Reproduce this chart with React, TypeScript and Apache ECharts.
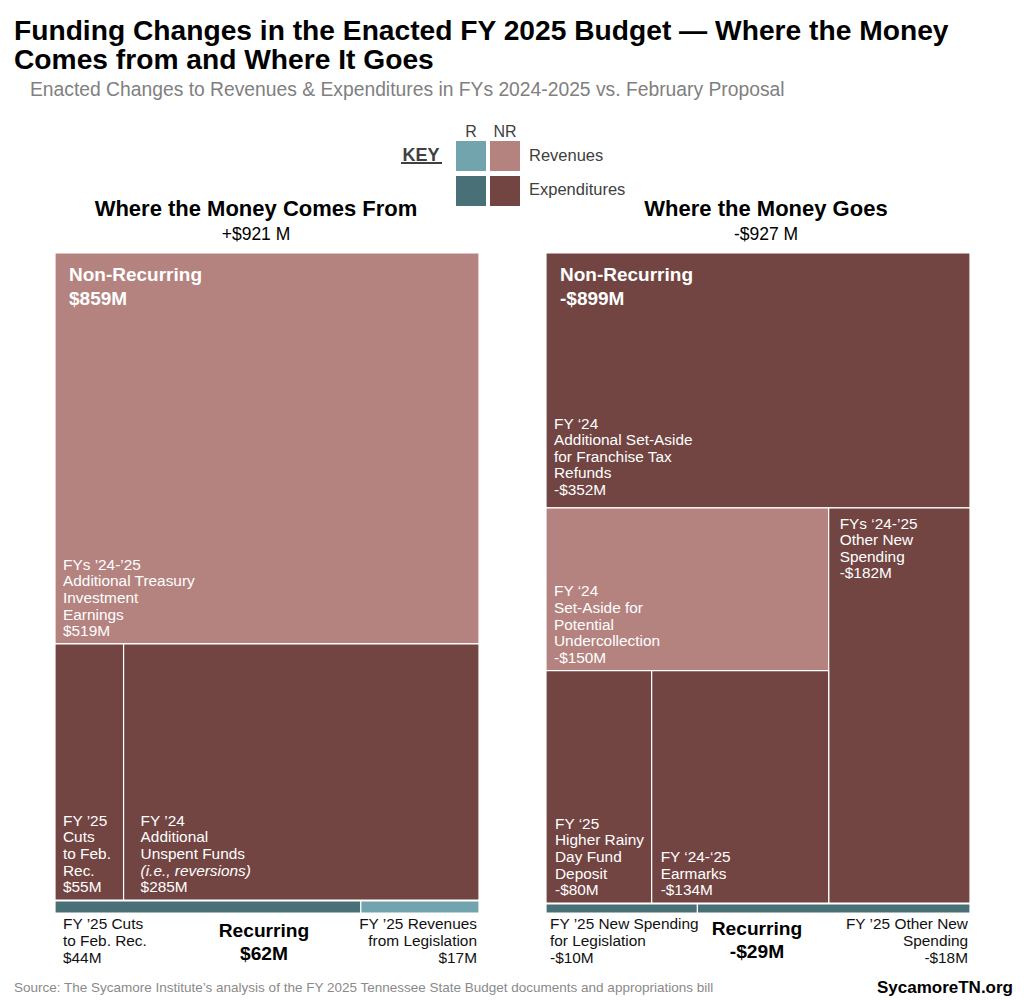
import React, { useEffect, useRef } from "react";
import * as echarts from "echarts";

const FONT = '"Liberation Sans", Arial, Helvetica, sans-serif';

// ---------- DATA ----------
const sourcesTotal = 921;
const usesTotal = -927;
const sourcesNonRecurring = 859;
const sourcesRecurring = 62;
const usesNonRecurring = -899;
const usesRecurring = -29;

// Where the money comes from — non-recurring cells
const sourcesNRNames = [
  "FYs ’24-’25\nAdditional Treasury\nInvestment\nEarnings",
  "FY ’25\nCuts\nto Feb.\nRec.",
  "FY ’24\nAdditional\nUnspent Funds\n{i|(i.e., reversions)}",
];
const sourcesNRValues = [519, 55, 285];
const sourcesNRKinds = ["revNR", "expNR", "expNR"];

// Where the money comes from — recurring cells
const sourcesRNames = ["FY ’25 Cuts\nto Feb. Rec.", "FY ’25 Revenues\nfrom Legislation"];
const sourcesRValues = [44, 17];
const sourcesRKinds = ["expR", "revR"];

// Where the money goes — non-recurring cells
const usesNRNames = [
  "FY ‘24\nAdditional Set-Aside\nfor Franchise Tax\nRefunds",
  "FY ‘24\nSet-Aside for\nPotential\nUndercollection",
  "FYs ‘24-’25\nOther New\nSpending",
  "FY ‘25\nHigher Rainy\nDay Fund\nDeposit",
  "FY ‘24-‘25\nEarmarks",
];
const usesNRValues = [-352, -150, -182, -80, -134];
const usesNRKinds = ["expNR", "revNR", "expNR", "expNR", "expNR"];

// Where the money goes — recurring cells
const usesRNames = ["FY ’25 New Spending\nfor Legislation", "FY ’25 Other New\nSpending"];
const usesRValues = [-10, -18];
const usesRKinds = ["expR", "expR"];

// ---------- STYLE ----------
const COLORS: Record<string, string> = {
  revR: "#72a4ad",
  revNR: "#b5837f",
  expR: "#487076",
  expNR: "#724542",
};

const CELL_FS = 15.4;
const CELL_LH = 16.6;

const fmt = (v: number, space = false) =>
  (v < 0 ? "-$" : v > 0 && space ? "+$" : "$") + Math.abs(v) + (space ? " M" : "M");

// label placement (style only)
const sourcesNRLabelStyle = [
  { anchor: "bottom", padX: 8, pad: 5 },
  { anchor: "bottom", padX: 8, pad: 5 },
  { anchor: "bottom", padX: 17, pad: 5 },
];
const usesNRLabelStyle = [
  { anchor: "bottom", padX: 8, pad: 10 },
  { anchor: "bottom", padX: 8, pad: 5 },
  { anchor: "top", padX: 11, pad: 7 },
  { anchor: "bottom", padX: 9, pad: 5 },
  { anchor: "bottom", padX: 9, pad: 5 },
];

// ---------- LAYOUT FROM VALUES (fractions of each block) ----------
function layoutSources(v: number[]) {
  const a = v.map(Math.abs);
  const total = a.reduce((s, x) => s + x, 0);
  const h0 = a[0] / total;
  const split = a[1] / (a[1] + a[2]);
  return [
    [0, 0, 1, h0],
    [0, h0, split, 1],
    [split, h0, 1, 1],
  ];
}
function layoutUses(v: number[]) {
  const a = v.map(Math.abs);
  const total = a.reduce((s, x) => s + x, 0);
  const h0 = a[0] / total;
  const rest = total - a[0];
  const leftW = 1 - a[2] / rest;
  const block = a[1] + a[3] + a[4];
  const hSet = h0 + (1 - h0) * (a[1] / block);
  const splitX = leftW * (a[3] / (a[3] + a[4]));
  return [
    [0, 0, 1, h0],
    [0, h0, leftW, hSet],
    [leftW, h0, 1, 1],
    [0, hSet, splitX, 1],
    [splitX, hSet, leftW, 1],
  ];
}
function layoutStrip(v: number[]) {
  const a = v.map(Math.abs);
  const s = a[0] / (a[0] + a[1]);
  return [
    [0, 0, s, 1],
    [s, 0, 1, 1],
  ];
}

function nrSeries(
  gridIdx: number,
  rects: number[][],
  names: string[],
  values: number[],
  kinds: string[],
  labelStyle: any[],
  header: string
) {
  return {
    type: "custom",
    coordinateSystem: "cartesian2d",
    xAxisIndex: gridIdx,
    yAxisIndex: gridIdx,
    silent: true,
    clip: false,
    data: rects.map((r, i) => [...r, i]),
    renderItem: (params: any, api: any) => {
      const i = api.value(4);
      const p0 = api.coord([api.value(0), api.value(1)]);
      const p1 = api.coord([api.value(2), api.value(3)]);
      const ls = labelStyle[i];
      const top = ls.anchor === "top";
      const children: any[] = [
        {
          type: "rect",
          shape: { x: p0[0], y: p0[1], width: p1[0] - p0[0], height: p1[1] - p0[1] },
          style: { fill: COLORS[kinds[i]], stroke: "#ffffff", lineWidth: 1.2 },
        },
        {
          type: "text",
          style: {
            text: names[i] + "\n" + fmt(values[i]),
            x: p0[0] + ls.padX,
            y: top ? p0[1] + ls.pad : p1[1] - ls.pad,
            fill: "#ffffff",
            fontSize: CELL_FS,
            fontFamily: FONT,
            lineHeight: CELL_LH,
            align: "left",
            textAlign: "left",
            verticalAlign: top ? "top" : "bottom",
            textVerticalAlign: top ? "top" : "bottom",
            rich: {
              i: { fontStyle: "italic", fill: "#ffffff", fontSize: CELL_FS, fontFamily: FONT, lineHeight: CELL_LH },
            },
          },
        },
      ];
      if (i === 0) {
        children.push({
          type: "text",
          style: {
            text: header,
            x: p0[0] + 14,
            y: p0[1] + 10,
            fill: "#ffffff",
            fontSize: 19,
            fontWeight: "bold",
            fontFamily: FONT,
            lineHeight: 23.5,
            align: "left",
            textAlign: "left",
            verticalAlign: "top",
            textVerticalAlign: "top",
          },
        });
      }
      return { type: "group", children };
    },
  };
}

function stripSeries(
  gridIdx: number,
  rects: number[][],
  names: string[],
  values: number[],
  kinds: string[],
  padLeft: number
) {
  return {
    type: "custom",
    coordinateSystem: "cartesian2d",
    xAxisIndex: gridIdx,
    yAxisIndex: gridIdx,
    silent: true,
    clip: false,
    data: rects.map((r, i) => [...r, i]),
    renderItem: (params: any, api: any) => {
      const i = api.value(4);
      const p0 = api.coord([api.value(0), api.value(1)]);
      const p1 = api.coord([api.value(2), api.value(3)]);
      const first = i === 0;
      return {
        type: "group",
        children: [
          {
            type: "rect",
            shape: { x: p0[0], y: p0[1], width: p1[0] - p0[0], height: p1[1] - p0[1] },
            style: { fill: COLORS[kinds[i]], stroke: "#ffffff", lineWidth: 1.2 },
          },
          {
            type: "text",
            style: {
              text: names[i] + "\n" + fmt(values[i]),
              x: first ? p0[0] + padLeft : p1[0] - 2,
              y: p1[1] + 2,
              fill: "#111111",
              fontSize: 15.4,
              fontFamily: FONT,
              lineHeight: 16.8,
              align: first ? "left" : "right",
              textAlign: first ? "left" : "right",
              verticalAlign: "top",
              textVerticalAlign: "top",
            },
          },
        ],
      };
    },
  };
}

const grids = [
  { left: 55, top: 253, width: 424, height: 647 },
  { left: 55, top: 901, width: 424, height: 12 },
  { left: 546, top: 253, width: 424, height: 650 },
  { left: 546, top: 904, width: 424, height: 9 },
];

const txt = (x: number, y: number, text: string, o: any = {}) => ({
  type: "text",
  x,
  y,
  silent: true,
  style: {
    text,
    fontFamily: FONT,
    fill: "#000",
    fontSize: 14,
    align: "left",
    textAlign: "left",
    verticalAlign: "middle",
    textVerticalAlign: "middle",
    ...o,
  },
});

const keyRect = (x: number, y: number, color: string) => ({
  type: "rect",
  silent: true,
  shape: { x, y, width: 30, height: 30 },
  style: { fill: color },
});

function buildOption() {
  const L = grids[0];
  const R = grids[2];
  const lc = L.left + L.width / 2;
  const rc = R.left + R.width / 2;
  return {
    animation: false,
    backgroundColor: "#ffffff",
    grid: grids.map((g) => ({ ...g, containLabel: false })),
    xAxis: grids.map((_, i) => ({ type: "value", gridIndex: i, min: 0, max: 1, show: false })),
    yAxis: grids.map((_, i) => ({ type: "value", gridIndex: i, min: 0, max: 1, inverse: true, show: false })),
    series: [
      nrSeries(0, layoutSources(sourcesNRValues), sourcesNRNames, sourcesNRValues, sourcesNRKinds, sourcesNRLabelStyle,
        "Non-Recurring\n" + fmt(sourcesNonRecurring)),
      stripSeries(1, layoutStrip(sourcesRValues), sourcesRNames, sourcesRValues, sourcesRKinds, 8),
      nrSeries(2, layoutUses(usesNRValues), usesNRNames, usesNRValues, usesNRKinds, usesNRLabelStyle,
        "Non-Recurring\n" + fmt(usesNonRecurring)),
      stripSeries(3, layoutStrip(usesRValues), usesRNames, usesRValues, usesRKinds, 4),
    ],
    graphic: [
      txt(14, 30, "Funding Changes in the Enacted FY 2025 Budget — Where the Money", { fontSize: 28.2, fontWeight: "bold" }),
      txt(14, 59, "Comes from and Where It Goes", { fontSize: 28.2, fontWeight: "bold" }),
      txt(30, 89, "Enacted Changes to Revenues & Expenditures in FYs 2024-2025 vs. February Proposal", { fontSize: 19.3, fill: "#808080" }),
      // key
      txt(421, 155, "KEY", { fontSize: 18, fontWeight: "bold", fill: "#404040", align: "center", textAlign: "center" }),
      { type: "rect", silent: true, shape: { x: 401, y: 162, width: 41, height: 2 }, style: { fill: "#404040" } },
      txt(471, 131, "R", { fontSize: 16, fill: "#404040", align: "center", textAlign: "center" }),
      txt(505, 131, "NR", { fontSize: 16, fill: "#404040", align: "center", textAlign: "center" }),
      keyRect(456, 141, COLORS.revR),
      keyRect(490, 141, COLORS.revNR),
      keyRect(456, 176, COLORS.expR),
      keyRect(490, 176, COLORS.expNR),
      txt(529, 155, "Revenues", { fontSize: 16.5, fill: "#404040" }),
      txt(529, 189, "Expenditures", { fontSize: 16.5, fill: "#404040" }),
      // panel headers
      txt(lc - 11, 208, "Where the Money Comes From", { fontSize: 22, fontWeight: "bold", align: "center", textAlign: "center" }),
      txt(lc - 11, 234, fmt(sourcesTotal, true), { fontSize: 17.5, align: "center", textAlign: "center" }),
      txt(rc + 8, 208, "Where the Money Goes", { fontSize: 22, fontWeight: "bold", align: "center", textAlign: "center" }),
      txt(rc + 8, 234, fmt(usesTotal, true), { fontSize: 17.5, align: "center", textAlign: "center" }),
      // recurring totals
      txt(lc - 3, 930, "Recurring", { fontSize: 19.2, fontWeight: "bold", align: "center", textAlign: "center" }),
      txt(lc - 3, 953, fmt(sourcesRecurring), { fontSize: 19.2, fontWeight: "bold", align: "center", textAlign: "center" }),
      txt(rc - 1, 928, "Recurring", { fontSize: 19.2, fontWeight: "bold", align: "center", textAlign: "center" }),
      txt(rc - 1, 951, fmt(usesRecurring), { fontSize: 19.2, fontWeight: "bold", align: "center", textAlign: "center" }),
      // footer
      txt(14, 987, "Source: The Sycamore Institute’s analysis of the FY 2025 Tennessee State Budget documents and appropriations bill", { fontSize: 13.5, fill: "#8a8a8a" }),
      txt(1013, 987, "SycamoreTN.org", { fontSize: 17, fontWeight: "bold", align: "right", textAlign: "right" }),
    ],
  };
}

export default function App() {
  const ref = useRef<HTMLDivElement>(null);
  useEffect(() => {
    document.body.style.margin = "0";
    const chart = echarts.init(ref.current!, null, { renderer: "svg" });
    chart.setOption(buildOption() as any);
    return () => chart.dispose();
  }, []);
  return <div ref={ref} style={{ width: 1024, height: 1000 }} />;
}
